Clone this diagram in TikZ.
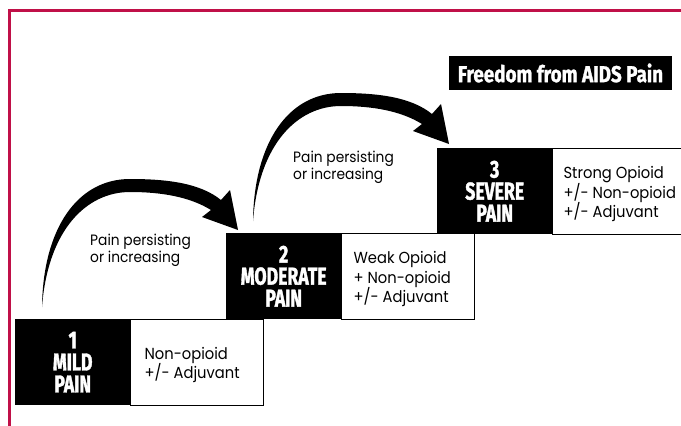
\documentclass[tikz,border=0pt]{standalone}
\usepackage{fontspec}
\setmainfont{Poppins}[FakeStretch=0.92]
\newfontfamily\headfamily{Fira Sans}[FakeStretch=0.72, FakeBold=1.5]
\newfontfamily\titlefamily{Fira Sans}[FakeStretch=0.82, FakeBold=1.2]
\usetikzlibrary{positioning, calc}
\definecolor{framered}{RGB}{192,16,72}
\newcommand{\headfont}{\headfamily\bfseries\fontsize{24.5}{22}\selectfont}
\newcommand{\titlefont}{\titlefamily\bfseries\fontsize{23}{23}\selectfont}
\newcommand{\rxfont}{\fontsize{16}{19.5}\selectfont}
\newcommand{\notefont}{\fontsize{15}{17}\selectfont}
\tikzset{
  painbox/.style={fill=black, text=white, font=\headfont, align=center,
    minimum width=115pt, minimum height=86pt, inner sep=0pt, anchor=north west},
  rxbox/.style={draw=black, line width=0.8pt, fill=white,
    minimum width=133pt, minimum height=86pt, inner sep=0pt},
  rxtext/.style={font=\rxfont, align=left, inner sep=0pt},
  note/.style={font=\notefont, align=left, inner sep=0pt, anchor=north west},
  titlebox/.style={fill=black, text=white, font=\titlefont,
    minimum width=223pt, minimum height=34pt, inner sep=0pt},
  % tapering step arrow, origin at the lower box's top left corner
  pics/stepup/.style={code={
    \fill (27,-12) .. controls (28,-90) and (62,-140) .. (115,-140)
      .. controls (152,-140) and (185,-136) .. (206,-119)
      -- (215,-129) -- (223,-89) -- (187,-102) -- (196,-109)
      .. controls (175,-122) and (147,-127) .. (115,-127)
      .. controls (72,-127) and (33,-90) .. (27,-12) -- cycle;
  }}
}

\begin{document}
\begin{tikzpicture}[x=1pt, y=-1pt]
  \useasboundingbox (0,0) rectangle (681,426);
  \clip (0,0) rectangle (681,426);
  \draw[framered, line width=2.5pt] (9.5,430) |- (685,10.5);

  \node[titlebox] (title) at (560.5,73) {Freedom from AIDS Pain};

  % step 1
  \node[painbox] (mild) at (15,319) {1\\MILD\\PAIN};
  \node[rxbox, right=0pt of mild] (mildrx) {};
  \node[rxtext, right=14pt of mildrx.west, yshift=-3pt] (mildtxt) {Non-opioid\\+/- Adjuvant};

  % step 2
  \node[painbox] (moderate) at (226,233) {2\\MODERATE\\PAIN};
  \node[rxbox, right=0pt of moderate] (moderaterx) {};
  \node[rxtext, right=12pt of moderaterx.west, yshift=-3pt] (moderatetxt) {Weak Opioid\\+ Non-opioid\\+/- Adjuvant};

  % step 3
  \node[painbox] (severe) at (437,148) {3\\SEVERE\\PAIN};
  \node[rxbox, right=0pt of severe] (severerx) {};
  \node[rxtext, right=11pt of severerx.west, yshift=-3pt] (severetxt) {Strong Opioid\\+/- Non-opioid\\+/- Adjuvant};

  % arrows between the steps
  \pic at (mild.north west) {stepup};
  \pic at (moderate.north west) {stepup};
  \node[note] (note1) at (90,234) {Pain persisting\\or increasing};
  \node[note] (note2) at (293,151) {Pain persisting\\or increasing};
\end{tikzpicture}
\end{document}
